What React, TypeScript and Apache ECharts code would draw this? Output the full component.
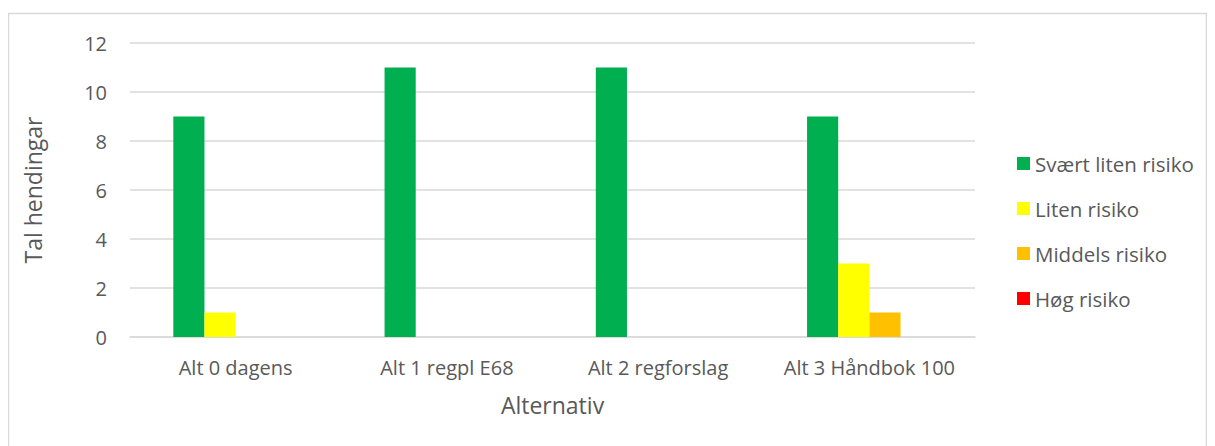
import React, { useEffect, useRef } from "react";
import * as echarts from "echarts";

const categories = ["Alt 0 dagens", "Alt 1 regpl E68", "Alt 2 regforslag", "Alt 3 Håndbok 100"];
const seriesNames = ["Svært liten risiko", "Liten risiko", "Middels risiko", "Høg risiko"];
const svaertLiten = [9, 11, 11, 9];
const liten = [1, 0, 0, 3];
const middels = [0, 0, 0, 1];
const hog = [0, 0, 0, 0];
const colors = ["#00B050", "#FFFF00", "#FFC000", "#FF0000"];
const yTicks = { min: 0, max: 12, interval: 2 };

export default function App() {
  const ref = useRef<HTMLDivElement>(null);
  useEffect(() => {
    if (!ref.current) return;
    const chart = echarts.init(ref.current, undefined, { renderer: "svg" });
    const font = "'Open Sans', 'Noto Sans', sans-serif";
    const values = [svaertLiten, liten, middels, hog];
    chart.setOption({
      animation: false,
      textStyle: { fontFamily: font },
      graphic: [
        {
          type: "rect",
          shape: { x: 0.5, y: 5.5, width: 1198, height: 480 },
          style: { fill: "none", stroke: "#d9d9d9", lineWidth: 1.5 },
          silent: true,
        },
      ],
      grid: { left: 122, right: 232, top: 35, bottom: 109, containLabel: false },
      legend: {
        orient: "vertical",
        left: 1004,
        top: 140,
        itemWidth: 13,
        itemHeight: 13,
        itemGap: 24,
        icon: "rect",
        textStyle: { fontSize: 20.5, color: "#595959", fontFamily: font },
        data: seriesNames,
      },
      xAxis: {
        type: "category",
        data: categories,
        name: "Alternativ",
        nameLocation: "middle",
        nameGap: 56,
        nameTextStyle: { fontSize: 23, color: "#595959", fontFamily: font },
        axisLine: { lineStyle: { color: "#d9d9d9", width: 1.5 } },
        axisTick: { show: false },
        axisLabel: { interval: 0, hideOverlap: false, fontSize: 20, color: "#595959", margin: 20, fontFamily: font },
      },
      yAxis: {
        type: "value",
        min: yTicks.min,
        max: yTicks.max,
        interval: yTicks.interval,
        name: "Tal hendingar",
        nameLocation: "middle",
        nameGap: 86,
        nameTextStyle: { fontSize: 23, color: "#595959", fontFamily: font },
        axisLine: { show: false },
        axisTick: { show: false },
        axisLabel: { fontSize: 20, color: "#595959", margin: 23, fontFamily: font },
        splitLine: { lineStyle: { color: "#d9d9d9", width: 1.5 } },
      },
      series: seriesNames.map((name, i) => ({
        name,
        type: "bar",
        data: values[i],
        barGap: "0%",
        barCategoryGap: "41%",
        itemStyle: { color: colors[i] },
      })),
    });
    return () => chart.dispose();
  }, []);
  return <div ref={ref} style={{ width: 1199, height: 438 }} />;
}
